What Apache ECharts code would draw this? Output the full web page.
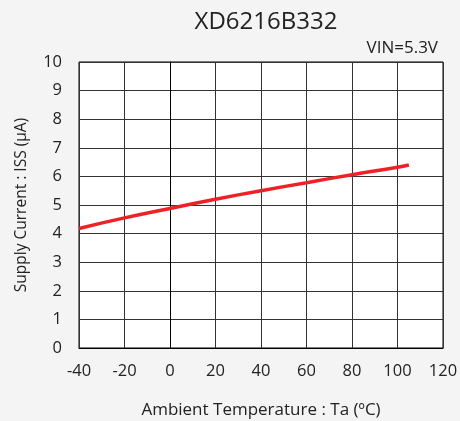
<!DOCTYPE html>
<html><head><meta charset="utf-8">
<script src="https://cdn.jsdelivr.net/npm/echarts@6/dist/echarts.min.js"></script>
<style>html,body{margin:0;padding:0;background:#f4f4f4}#c{width:460px;height:421px}</style>
</head><body><div id="c"></div>
<script>
var temps = [-40, -20, 0, 20, 40, 60, 80, 100, 105];
var current = [4.18, 4.55, 4.88, 5.2, 5.5, 5.78, 6.06, 6.32, 6.4];
var xTicks = [-40, 120, 20];
var yTicks = [0, 10, 1];
var FONT = '"Open Sans", "DejaVu Sans", sans-serif';
var chart = echarts.init(document.getElementById('c'));
chart.setOption({
  backgroundColor: '#f4f4f4',
  animation: false,
  title: [
    {text: 'XD6216B332', left: 261, top: 5, textAlign: 'center',
     textStyle: {fontFamily: FONT, fontSize: 24, fontWeight: 'normal', color: '#222'}},
    {text: 'VIN=5.3V', right: 17, top: 35,
     textStyle: {fontFamily: FONT, fontSize: 17, fontWeight: 'normal', color: '#222'}}
  ],
  grid: {left: 79, right: 17, top: 62, bottom: 73, containLabel: false, outerBoundsMode: 'none',
         show: true, backgroundColor: '#fff', borderColor: '#000', borderWidth: 1},
  xAxis: {
    type: 'value', min: xTicks[0], max: xTicks[1], interval: xTicks[2],
    name: 'Ambient Temperature : Ta (ºC)', nameLocation: 'middle', nameGap: 54,
    nameTextStyle: {fontFamily: FONT, fontSize: 17, color: '#222'},
    axisLine: {show: true, lineStyle: {color: '#000'}},
    axisTick: {show: false},
    axisLabel: {fontFamily: FONT, fontSize: 16.5, color: '#222', margin: 15},
    splitLine: {show: true, lineStyle: {color: '#333', width: 1}}
  },
  yAxis: {
    type: 'value', min: yTicks[0], max: yTicks[1], interval: yTicks[2],
    name: 'Supply Current : ISS (μA)', nameLocation: 'middle', nameGap: 49,
    nameTextStyle: {fontFamily: FONT, fontSize: 15.5, color: '#222'},
    axisLine: {show: true, lineStyle: {color: '#000'}},
    axisTick: {show: false},
    axisLabel: {fontFamily: FONT, fontSize: 16.5, color: '#222', margin: 17},
    splitLine: {show: true, lineStyle: {color: '#333', width: 1}}
  },
  series: [{
    type: 'line', data: temps.map(function(t, i){ return [t, current[i]]; }),
    showSymbol: false, smooth: true,
    lineStyle: {color: '#ee2127', width: 3.5}
  }]
});
</script></body></html>
